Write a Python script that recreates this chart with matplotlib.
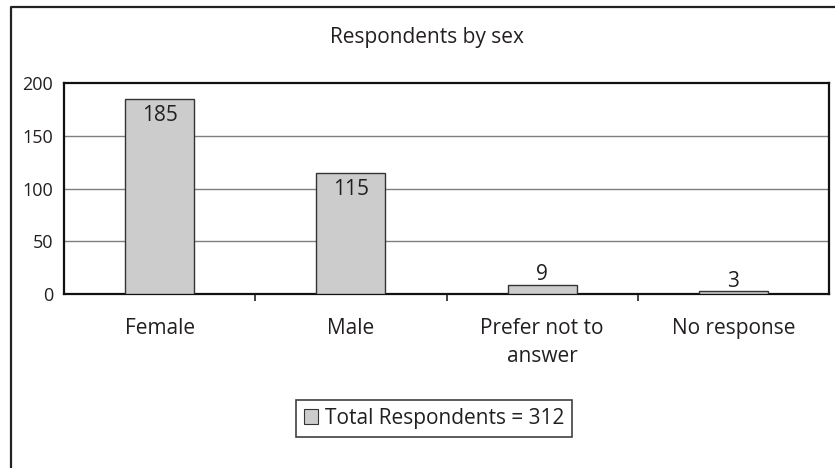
import matplotlib
matplotlib.use("Agg")
import matplotlib.pyplot as plt
from matplotlib.lines import Line2D
from matplotlib.patches import Patch

categories = ["Female", "Male", "Prefer not to\nanswer", "No response"]
values = [185, 115, 9, 3]
legend_label = "Total Respondents = 312"
title = "Respondents by sex"
y_ticks = [0, 50, 100, 150, 200]

plt.rcParams["font.family"] = ["Open Sans", "DejaVu Sans"]
text_color = "#231f20"

W, H = 835, 468
fig = plt.figure(figsize=(W / 100, H / 100), dpi=100)

# outer chart frame (left and top edges visible)
frame = Line2D([11, 11, W + 5], [-5, H - 6.5, H - 6.5], transform=None,
               color="#222222", linewidth=1.6)
fig.add_artist(frame)

ax = fig.add_axes([64 / W, (H - 294) / H, (829 - 64) / W, (294 - 83) / H])

x = list(range(len(categories)))
bars = ax.bar(x, values, width=0.36, color="#cccccc", edgecolor="#333333",
              linewidth=1.0, zorder=3)

ax.set_xlim(-0.5, len(categories) - 0.5)
ax.set_ylim(0, 200)
ax.set_yticks(y_ticks)
ax.set_yticklabels([str(v) for v in y_ticks], fontsize=13, color=text_color)
ax.tick_params(axis="y", length=0, pad=8)

ax.set_xticks(x)
ax.set_xticklabels(categories, fontsize=15, color=text_color, linespacing=1.42)
ax.tick_params(axis="x", which="major", length=0, pad=17.5)
ax.set_xticks([i + 0.5 for i in x[:-1]], minor=True)
ax.tick_params(axis="x", which="minor", length=5, width=1.2, direction="out",
               color="#222222")

for yv in y_ticks[1:-1]:
    ax.axhline(yv, color="#7f7f7f", linewidth=1.0, zorder=1)

for side in ["left", "right", "top", "bottom"]:
    ax.spines[side].set_color("#111111")
    ax.spines[side].set_linewidth(1.6)

for b, v in zip(bars, values):
    cx = b.get_x() + b.get_width() / 2
    dy = -16 if v > 100 else 3
    ax.annotate(str(v), (cx, v), xytext=(0, dy), textcoords="offset points",
                ha="center", va="baseline", fontsize=15, color=text_color,
                zorder=4)

fig.text(427 / W, 1 - 38 / H, title, ha="center", va="center", fontsize=15,
         color=text_color)

handle = Patch(facecolor="#cccccc", edgecolor="#333333", linewidth=0.8)
leg = fig.legend([handle], [legend_label], loc="center",
                 bbox_to_anchor=(434 / W, 1 - 418.5 / H), fontsize=15,
                 frameon=True, fancybox=False, edgecolor="#111111",
                 handlelength=0.7, handleheight=0.7, handletextpad=0.3,
                 borderpad=0.38, borderaxespad=0)
leg.get_frame().set_linewidth(1.2)
for t in leg.get_texts():
    t.set_color(text_color)

fig.savefig("out.png", dpi=100, facecolor="white")
